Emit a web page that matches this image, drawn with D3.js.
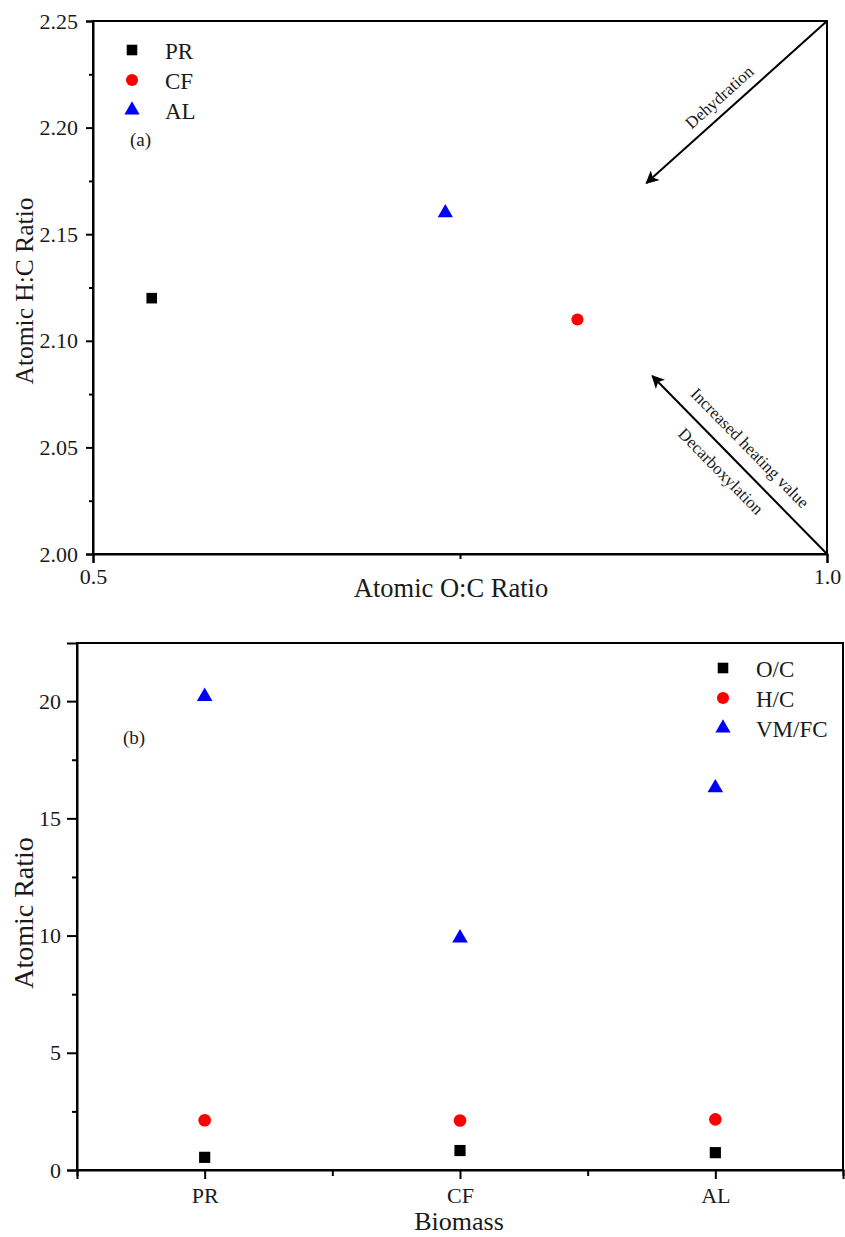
<!DOCTYPE html>
<html>
<head>
<meta charset="utf-8">
<script src="https://cdn.jsdelivr.net/npm/d3@7"></script>
<style>
  html, body { margin: 0; padding: 0; background: #fff; }
  svg { display: block; }
  text { font-family: "Liberation Serif", "Times New Roman", serif; fill: #1a1a1a; }
</style>
</head>
<body>
<svg id="chart" width="845" height="1237"></svg>
<script>
// Biomass samples and their elemental / proximate ratios
const biomass = ["PR", "CF", "AL"];
const ocRatio = [0.54, 0.83, 0.74];     // atomic O/C
const hcRatio = [2.12, 2.11, 2.16];     // atomic H/C
const vmfcRatio = [20.2, 9.9, 16.3];    // volatile matter / fixed carbon

// Axis tick values
const vkXTicks = [0.5, 1.0];
const vkXMinor = [0.75];
const vkYTicks = [2.00, 2.05, 2.10, 2.15, 2.20, 2.25];
const vkYMinor = [2.025, 2.075, 2.125, 2.175, 2.225];
const ratioYTicks = [0, 5, 10, 15, 20];
const ratioYMinor = [2.5, 7.5, 12.5, 17.5];
const seriesNames = ["O/C", "H/C", "VM/FC"];

// Van Krevelen trend arrows: [x0, y0, x1, y1] in data units
const trendArrows = [
  [1.0, 2.25, 0.877, 2.174],
  [1.0, 2.00, 0.881, 2.0835]
];
// labels: arrow index, fraction along arrow, perpendicular offset (px), text
const trendLabels = [
  [0, 0.54, 15, "Dehydration"],
  [1, 0.52, 19, "Increased heating value"],
  [1, 0.535, -18, "Decarboxylation"]
];

const colors = ["#000000", "#ff0000", "#0000ff"];
const shapes = [d3.symbolSquare, d3.symbolCircle, d3.symbolTriangle];
const markerSize = [112, 115, 100];

const FONT = "'Liberation Serif', 'Times New Roman', serif";
const svg = d3.select("#chart");

svg.append("defs").append("marker")
  .attr("id", "arrowhead")
  .attr("viewBox", "0 0 10 10")
  .attr("refX", 9).attr("refY", 5)
  .attr("markerWidth", 13).attr("markerHeight", 13)
  .attr("markerUnits", "userSpaceOnUse")
  .attr("orient", "auto")
  .append("path")
  .attr("d", "M0,0 L10,5 L0,10 L2.5,5 Z")
  .attr("fill", "#000");

function frame(g, x0, x1, y0, y1) {
  g.append("rect")
    .attr("x", x0).attr("y", y0)
    .attr("width", x1 - x0).attr("height", y1 - y0)
    .attr("fill", "none").attr("stroke", "#000").attr("stroke-width", 2);
}

function styleAxis(g, fontSize) {
  g.attr("font-family", FONT);
  g.selectAll(".domain").attr("stroke", "#000").attr("stroke-width", 2);
  g.selectAll(".tick line").attr("stroke", "#000").attr("stroke-width", 2);
  g.selectAll(".tick text")
    .attr("fill", "#1a1a1a")
    .style("font-family", FONT)
    .style("font-size", fontSize + "px");
}

function minorTicks(g) {
  g.select(".domain").remove();
  g.selectAll("line").attr("stroke", "#000").attr("stroke-width", 2);
}

// ---------- (a) Van Krevelen diagram ----------
{
  const L = 93, R = 827, T = 21, B = 554;
  const x = d3.scaleLinear().domain([0.5, 1.0]).range([L, R]);
  const y = d3.scaleLinear().domain([2.0, 2.25]).range([B, T]);
  const g = svg.append("g");

  const xAx = g.append("g").attr("transform", `translate(0,${B})`)
    .call(d3.axisBottom(x).tickValues(vkXTicks).tickFormat(d3.format(".1f")).tickSize(9).tickPadding(5));
  g.append("g").attr("transform", `translate(0,${B})`)
    .call(d3.axisBottom(x).tickValues(vkXMinor).tickFormat("").tickSize(5))
    .call(minorTicks);
  styleAxis(xAx, 22);

  const yAx = g.append("g").attr("transform", `translate(${L},0)`)
    .call(d3.axisLeft(y).tickValues(vkYTicks).tickFormat(d3.format(".2f")).tickSize(7).tickPadding(8));
  g.append("g").attr("transform", `translate(${L},0)`)
    .call(d3.axisLeft(y).tickValues(vkYMinor).tickFormat("").tickSize(4))
    .call(minorTicks);
  styleAxis(yAx, 22);

  frame(g, L, R, T, B);

  g.append("text").attr("x", (L + R) / 2 - 9).attr("y", 597)
    .attr("text-anchor", "middle").style("font-size", "26.5px").text("Atomic O:C Ratio");
  g.append("text").attr("transform", `translate(33,291) rotate(-90)`)
    .attr("text-anchor", "middle").style("font-size", "25.5px").text("Atomic H:C Ratio");

  // trend arrows
  trendArrows.forEach(a => {
    g.append("line")
      .attr("x1", x(a[0])).attr("y1", y(a[1]))
      .attr("x2", x(a[2])).attr("y2", y(a[3]))
      .attr("stroke", "#000").attr("stroke-width", 2)
      .attr("marker-end", "url(#arrowhead)");
  });
  trendLabels.forEach(([i, t, off, txt]) => {
    const a = trendArrows[i];
    const x0 = x(a[0]), y0 = y(a[1]), x1 = x(a[2]), y1 = y(a[3]);
    const dx = x1 - x0, dy = y1 - y0, len = Math.hypot(dx, dy);
    let ang = Math.atan2(dy, dx) * 180 / Math.PI;
    if (ang > 90) ang -= 180;
    if (ang < -90) ang += 180;
    const ux = dx / len, uy = dy / len;
    let nx = uy, ny = -ux;
    if (ny > 0) { nx = -nx; ny = -ny; }
    const px = x0 + dx * t + nx * off, py = y0 + dy * t + ny * off;
    g.append("text")
      .attr("transform", `translate(${px},${py}) rotate(${ang})`)
      .attr("text-anchor", "middle").attr("dominant-baseline", "central")
      .style("font-size", "17px").text(txt);
  });

  // points
  biomass.forEach((b, i) => {
    g.append("path")
      .attr("d", d3.symbol().type(shapes[i]).size(markerSize[i])())
      .attr("transform", `translate(${x(ocRatio[i])},${y(hcRatio[i])})`)
      .attr("fill", colors[i]);
  });

  // legend
  biomass.forEach((b, i) => {
    const ly = 50 + i * 30;
    g.append("path")
      .attr("d", d3.symbol().type(shapes[i]).size(markerSize[i])())
      .attr("transform", `translate(132,${ly})`).attr("fill", colors[i]);
    g.append("text").attr("x", 165).attr("y", ly + 1).attr("dominant-baseline", "central")
      .style("font-size", "23px").text(b);
  });
  g.append("text").attr("x", 130).attr("y", 139).attr("dominant-baseline", "central")
    .style("font-size", "19px").text("(a)");
}

// ---------- (b) Ratios by biomass ----------
{
  const L = 77, R = 843, T = 643, B = 1170;
  const x = d3.scaleLinear().domain([0.5, 3.5]).range([L, R]);
  const y = d3.scaleLinear().domain([0, 22.48]).range([B, T]);
  const g = svg.append("g");

  const catPos = biomass.map((b, i) => i + 1);
  const xAx = g.append("g").attr("transform", `translate(0,${B})`)
    .call(d3.axisBottom(x).tickValues(catPos).tickFormat((d, i) => biomass[i]).tickSize(9).tickPadding(8));
  g.append("g").attr("transform", `translate(0,${B})`)
    .call(d3.axisBottom(x).tickValues([0.5, 1.5, 2.5, 3.5]).tickFormat("").tickSize(6))
    .call(minorTicks);
  styleAxis(xAx, 22);

  const yAx = g.append("g").attr("transform", `translate(${L},0)`)
    .call(d3.axisLeft(y).tickValues(ratioYTicks).tickSize(10).tickPadding(6));
  g.append("g").attr("transform", `translate(${L},0)`)
    .call(d3.axisLeft(y).tickValues(ratioYMinor).tickFormat("").tickSize(5))
    .call(minorTicks);
  styleAxis(yAx, 22);

  frame(g, L, R, T, B);

  g.append("text").attr("x", (L + R) / 2 - 1).attr("y", 1230)
    .attr("text-anchor", "middle").style("font-size", "26px").text("Biomass");
  g.append("text").attr("transform", `translate(33,913) rotate(-90)`)
    .attr("text-anchor", "middle").style("font-size", "28px").text("Atomic Ratio");

  const series = [ocRatio, hcRatio, vmfcRatio];
  series.forEach((vals, s) => {
    vals.forEach((v, i) => {
      g.append("path")
        .attr("d", d3.symbol().type(shapes[s]).size(s === 2 ? 105 : 125)())
        .attr("transform", `translate(${x(i + 1)},${y(v)})`)
        .attr("fill", colors[s]);
    });
  });

  // legend
  seriesNames.forEach((n, i) => {
    const ly = 668 + i * 30;
    g.append("path")
      .attr("d", d3.symbol().type(shapes[i]).size(markerSize[i])())
      .attr("transform", `translate(723,${ly})`).attr("fill", colors[i]);
    g.append("text").attr("x", 756).attr("y", ly + 1).attr("dominant-baseline", "central")
      .style("font-size", "23px").text(n);
  });
  g.append("text").attr("x", 123).attr("y", 737).attr("dominant-baseline", "central")
    .style("font-size", "19px").text("(b)");
}
</script>
</body>
</html>
